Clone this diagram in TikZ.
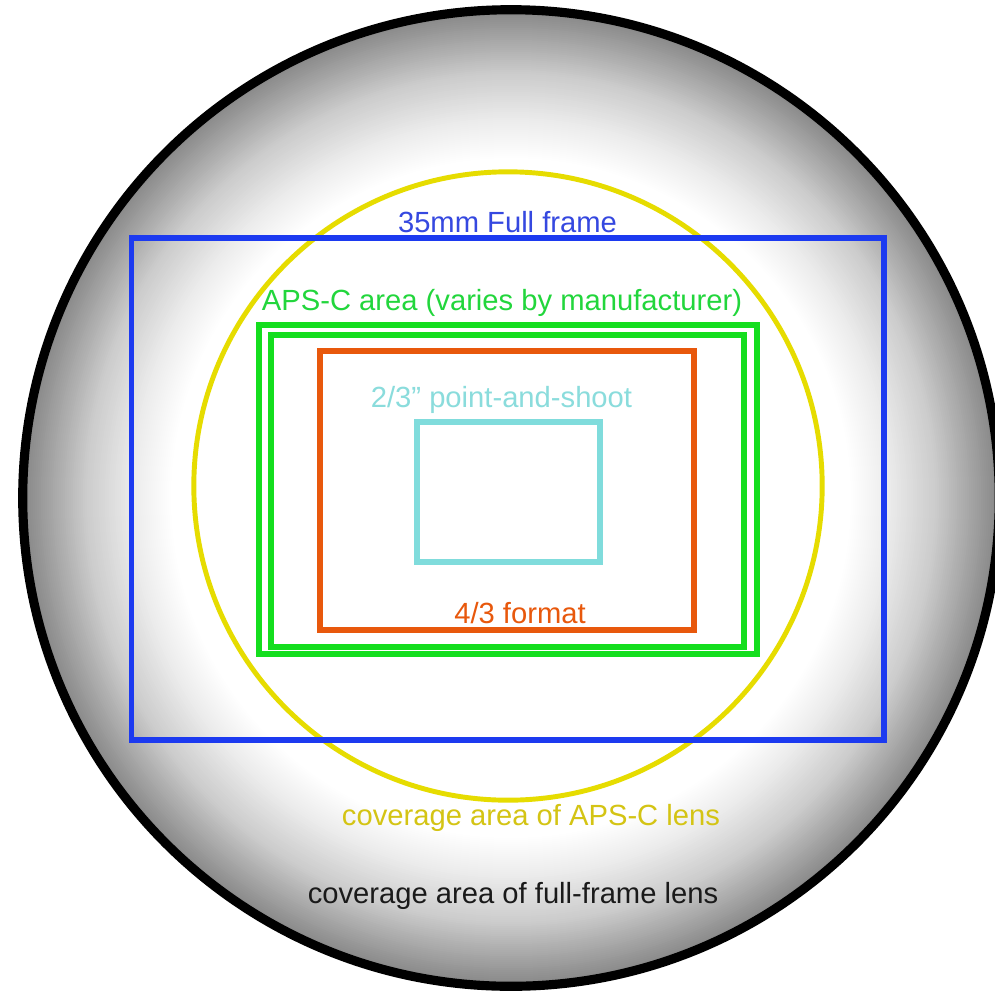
\documentclass[tikz,border=0pt]{standalone}
\usepackage{fontspec}
\setmainfont{Liberation Sans}
\usepackage{xcolor}
\usetikzlibrary{positioning}

\definecolor{ffblue}{HTML}{1C3AF0}
\definecolor{fftext}{HTML}{3548E0}
\definecolor{apsgreen}{HTML}{14DE1E}
\definecolor{apstext}{HTML}{22D63C}
\definecolor{mftorange}{HTML}{E8580C}
\definecolor{pscyan}{HTML}{80DCDC}
\definecolor{pstext}{HTML}{8ADCDC}
\definecolor{lensyellow}{HTML}{E6DC00}
\definecolor{lenstext}{HTML}{D4C414}
\definecolor{fulltext}{HTML}{1A1A1A}

\begin{document}
\begin{tikzpicture}[x=0.01cm, y=-0.01cm,
    every node/.style={font=\fontsize{8.3}{10}\selectfont, inner sep=0pt, anchor=base},
    frame/.style={line width=1.6pt}]
  \useasboundingbox (0,0) rectangle (995,994);
  % lens fall-off, dark at the rim
  \foreach \r in {488,486,...,340} {
    \pgfmathsetmacro{\g}{\r>455 ? 33+(\r-455)*0.424 : (\r>425 ? 20+(\r-425)*0.433 : (\r>380 ? 8+(\r-380)*0.267 : max(0,(\r-340)*0.2)))}
    \fill[black!\g] (511,498) circle ({\r*0.2845pt});
  }
  \draw[line width=2.6pt, black] (511,498) circle (4.88cm);
  \draw[line width=1.4pt, lensyellow] (508,486) circle (3.14cm);
  \draw[frame, line width=1.7pt, ffblue] (131.5,238) rectangle (883.5,740);
  \draw[frame, apsgreen] (259,325) rectangle (757,654);
  \draw[frame, apsgreen] (271,335) rectangle (744,647);
  \draw[frame, mftorange] (320,351) rectangle (694,630);
  \draw[frame, pscyan] (417,422) rectangle (600,562);
  \node[text=fftext] (fflabel) at (507.5,232) {35mm Full frame};
  \node[text=apstext] (apslabel) at (502,310) {APS-C area (varies by manufacturer)};
  \node[text=pstext] (pslabel) at (501.5,407) {2/3” point-and-shoot};
  \node[text=mftorange] (mftlabel) at (520,623) {4/3 format};
  \node[text=lenstext] (apslens) at (531,825) {coverage area of APS-C lens};
  \node[text=fulltext] (fflens) at (513,903) {coverage area of full-frame lens};
\end{tikzpicture}
\end{document}
